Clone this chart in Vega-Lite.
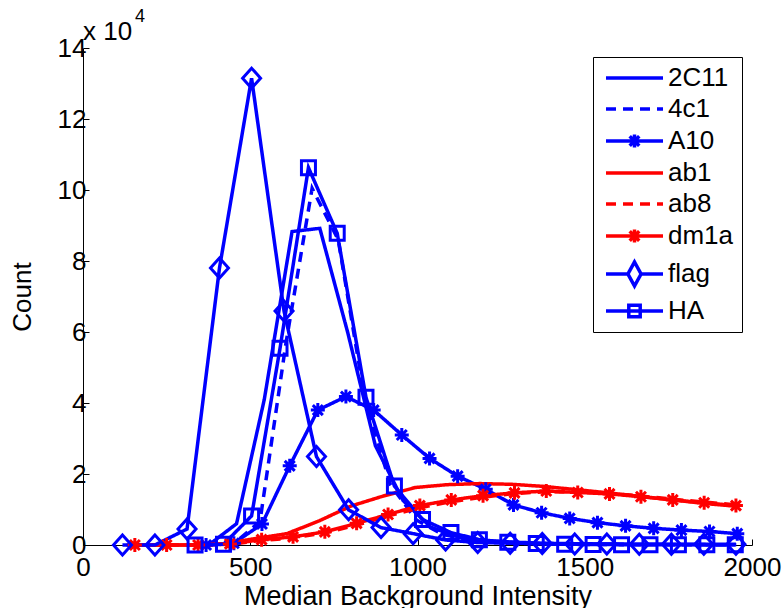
{
  "$schema": "https://vega.github.io/schema/vega-lite/v6.json",
  "width": 669,
  "height": 497,
  "autosize": {"type": "none"},
  "padding": {"left": 83, "top": 48, "right": 32, "bottom": 63},
  "background": "white",
  "config": {
    "view": {"stroke": null},
    "font": "Liberation Sans",
    "axis": {
      "domainColor": "#000000",
      "domainWidth": 1,
      "tickColor": "#000000",
      "tickSize": -6,
      "grid": false,
      "labelFont": "Liberation Sans",
      "labelFontSize": 26,
      "labelColor": "#000000",
      "titleFont": "Liberation Sans",
      "titleFontWeight": "normal",
      "titleColor": "#000000"
    }
  },
  "datasets": {
    "counts": [
      {"s": "2C11", "x": 376, "y": 0}, {"s": "2C11", "x": 459, "y": 6000}, {"s": "2C11", "x": 542, "y": 41000}, {"s": "2C11", "x": 625, "y": 88300}, {"s": "2C11", "x": 708, "y": 89200}, {"s": "2C11", "x": 791, "y": 60000}, {"s": "2C11", "x": 874, "y": 28000}, {"s": "2C11", "x": 957, "y": 12500}, {"s": "2C11", "x": 1040, "y": 5000}, {"s": "2C11", "x": 1123, "y": 2200}, {"s": "2C11", "x": 1206, "y": 1200}, {"s": "2C11", "x": 1289, "y": 800}, {"s": "2C11", "x": 1372, "y": 500}, {"s": "2C11", "x": 1455, "y": 400}, {"s": "2C11", "x": 1538, "y": 300}, {"s": "2C11", "x": 1621, "y": 200}, {"s": "2C11", "x": 1704, "y": 200}, {"s": "2C11", "x": 1787, "y": 150}, {"s": "2C11", "x": 1870, "y": 100}, {"s": "2C11", "x": 1953, "y": 100},
      {"s": "4c1", "x": 373, "y": 0}, {"s": "4c1", "x": 451, "y": 400}, {"s": "4c1", "x": 529, "y": 6600}, {"s": "4c1", "x": 607, "y": 57000}, {"s": "4c1", "x": 685, "y": 100500}, {"s": "4c1", "x": 763, "y": 86000}, {"s": "4c1", "x": 841, "y": 42000}, {"s": "4c1", "x": 919, "y": 17000}, {"s": "4c1", "x": 997, "y": 7000}, {"s": "4c1", "x": 1075, "y": 3000}, {"s": "4c1", "x": 1153, "y": 1500}, {"s": "4c1", "x": 1231, "y": 900}, {"s": "4c1", "x": 1309, "y": 500}, {"s": "4c1", "x": 1387, "y": 300}, {"s": "4c1", "x": 1465, "y": 200}, {"s": "4c1", "x": 1543, "y": 150}, {"s": "4c1", "x": 1621, "y": 100}, {"s": "4c1", "x": 1699, "y": 100}, {"s": "4c1", "x": 1777, "y": 50}, {"s": "4c1", "x": 1855, "y": 50}, {"s": "4c1", "x": 1933, "y": 50},
      {"s": "A10", "x": 368, "y": 0}, {"s": "A10", "x": 451, "y": 500}, {"s": "A10", "x": 535, "y": 5900}, {"s": "A10", "x": 618, "y": 22300}, {"s": "A10", "x": 702, "y": 38000}, {"s": "A10", "x": 786, "y": 41800}, {"s": "A10", "x": 869, "y": 38000}, {"s": "A10", "x": 953, "y": 31000}, {"s": "A10", "x": 1036, "y": 24400}, {"s": "A10", "x": 1120, "y": 19400}, {"s": "A10", "x": 1204, "y": 15700}, {"s": "A10", "x": 1287, "y": 11300}, {"s": "A10", "x": 1371, "y": 9100}, {"s": "A10", "x": 1455, "y": 7500}, {"s": "A10", "x": 1538, "y": 6300}, {"s": "A10", "x": 1622, "y": 5400}, {"s": "A10", "x": 1706, "y": 4700}, {"s": "A10", "x": 1789, "y": 4200}, {"s": "A10", "x": 1873, "y": 3800}, {"s": "A10", "x": 1956, "y": 3200},
      {"s": "ab1", "x": 130, "y": 0}, {"s": "ab1", "x": 226, "y": 0}, {"s": "ab1", "x": 322, "y": 0}, {"s": "ab1", "x": 418, "y": 300}, {"s": "ab1", "x": 514, "y": 1800}, {"s": "ab1", "x": 610, "y": 3200}, {"s": "ab1", "x": 706, "y": 6800}, {"s": "ab1", "x": 802, "y": 11000}, {"s": "ab1", "x": 898, "y": 13800}, {"s": "ab1", "x": 994, "y": 16200}, {"s": "ab1", "x": 1090, "y": 17000}, {"s": "ab1", "x": 1186, "y": 17300}, {"s": "ab1", "x": 1282, "y": 17100}, {"s": "ab1", "x": 1378, "y": 16500}, {"s": "ab1", "x": 1474, "y": 15600}, {"s": "ab1", "x": 1570, "y": 14700}, {"s": "ab1", "x": 1666, "y": 13700}, {"s": "ab1", "x": 1762, "y": 12700}, {"s": "ab1", "x": 1858, "y": 11700}, {"s": "ab1", "x": 1954, "y": 10900},
      {"s": "ab8", "x": 155, "y": 0}, {"s": "ab8", "x": 250, "y": 0}, {"s": "ab8", "x": 344, "y": 0}, {"s": "ab8", "x": 439, "y": 200}, {"s": "ab8", "x": 534, "y": 1300}, {"s": "ab8", "x": 628, "y": 2000}, {"s": "ab8", "x": 723, "y": 3400}, {"s": "ab8", "x": 818, "y": 5600}, {"s": "ab8", "x": 912, "y": 8200}, {"s": "ab8", "x": 1007, "y": 10500}, {"s": "ab8", "x": 1101, "y": 12200}, {"s": "ab8", "x": 1196, "y": 13500}, {"s": "ab8", "x": 1290, "y": 14500}, {"s": "ab8", "x": 1385, "y": 15000}, {"s": "ab8", "x": 1479, "y": 14900}, {"s": "ab8", "x": 1574, "y": 14500}, {"s": "ab8", "x": 1668, "y": 13800}, {"s": "ab8", "x": 1763, "y": 12900}, {"s": "ab8", "x": 1857, "y": 12100}, {"s": "ab8", "x": 1952, "y": 11300},
      {"s": "dm1a", "x": 155, "y": 0}, {"s": "dm1a", "x": 250, "y": 0}, {"s": "dm1a", "x": 344, "y": 0}, {"s": "dm1a", "x": 439, "y": 300}, {"s": "dm1a", "x": 534, "y": 1500}, {"s": "dm1a", "x": 628, "y": 2300}, {"s": "dm1a", "x": 723, "y": 3700}, {"s": "dm1a", "x": 818, "y": 6100}, {"s": "dm1a", "x": 912, "y": 8600}, {"s": "dm1a", "x": 1007, "y": 11100}, {"s": "dm1a", "x": 1101, "y": 12700}, {"s": "dm1a", "x": 1196, "y": 13900}, {"s": "dm1a", "x": 1290, "y": 14700}, {"s": "dm1a", "x": 1385, "y": 15200}, {"s": "dm1a", "x": 1479, "y": 14800}, {"s": "dm1a", "x": 1574, "y": 14400}, {"s": "dm1a", "x": 1668, "y": 13600}, {"s": "dm1a", "x": 1763, "y": 12700}, {"s": "dm1a", "x": 1857, "y": 11900}, {"s": "dm1a", "x": 1952, "y": 11100},
      {"s": "flag", "x": 118, "y": 0}, {"s": "flag", "x": 215, "y": 0}, {"s": "flag", "x": 311, "y": 4500}, {"s": "flag", "x": 408, "y": 78000}, {"s": "flag", "x": 504, "y": 131500}, {"s": "flag", "x": 601, "y": 65900}, {"s": "flag", "x": 698, "y": 24900}, {"s": "flag", "x": 794, "y": 9900}, {"s": "flag", "x": 891, "y": 4900}, {"s": "flag", "x": 987, "y": 3200}, {"s": "flag", "x": 1084, "y": 1400}, {"s": "flag", "x": 1180, "y": 700}, {"s": "flag", "x": 1277, "y": 500}, {"s": "flag", "x": 1373, "y": 400}, {"s": "flag", "x": 1470, "y": 300}, {"s": "flag", "x": 1566, "y": 300}, {"s": "flag", "x": 1663, "y": 200}, {"s": "flag", "x": 1759, "y": 200}, {"s": "flag", "x": 1856, "y": 200}, {"s": "flag", "x": 1952, "y": 200},
      {"s": "HA", "x": 335, "y": 0}, {"s": "HA", "x": 420, "y": 200}, {"s": "HA", "x": 504, "y": 8200}, {"s": "HA", "x": 589, "y": 55400}, {"s": "HA", "x": 674, "y": 106300}, {"s": "HA", "x": 760, "y": 87800}, {"s": "HA", "x": 846, "y": 41600}, {"s": "HA", "x": 931, "y": 16600}, {"s": "HA", "x": 1015, "y": 7200}, {"s": "HA", "x": 1100, "y": 3500}, {"s": "HA", "x": 1185, "y": 1500}, {"s": "HA", "x": 1270, "y": 800}, {"s": "HA", "x": 1355, "y": 400}, {"s": "HA", "x": 1440, "y": 200}, {"s": "HA", "x": 1525, "y": 150}, {"s": "HA", "x": 1610, "y": 100}, {"s": "HA", "x": 1695, "y": 100}, {"s": "HA", "x": 1780, "y": 50}, {"s": "HA", "x": 1865, "y": 50}, {"s": "HA", "x": 1950, "y": 50}
    ],
    "notes": [{"t": "x 10"}]
  },
  "layer": [
    {
      "data": {"name": "counts"},
      "mark": {"type": "line", "strokeWidth": 3.5, "strokeJoin": "miter", "clip": false},
      "encoding": {
        "x": {
          "field": "x", "type": "quantitative",
          "scale": {"domain": [0, 2000], "nice": false, "zero": false},
          "axis": {"values": [0, 500, 1000, 1500, 2000], "format": "d", "title": "Median Background Intensity", "titleFontSize": 27, "labelPadding": 15, "labelFlush": false, "titleY": 59, "titleBaseline": "alphabetic"}
        },
        "y": {
          "field": "y", "type": "quantitative",
          "scale": {"domain": [0, 140000], "nice": false},
          "axis": {"values": [0, 20000, 40000, 60000, 80000, 100000, 120000, 140000], "labelExpr": "datum.value / 10000", "title": "Count", "titleFontSize": 26, "labelPadding": 3, "titleX": -61, "titleY": 248.5, "titleAngle": -90, "titleAlign": "center", "titleBaseline": "middle"}
        },
        "color": {
          "field": "s", "type": "nominal",
          "scale": {"domain": ["2C11", "4c1", "A10", "ab1", "ab8", "dm1a", "flag", "HA"], "range": ["#0000ff", "#0000ff", "#0000ff", "#ff0000", "#ff0000", "#ff0000", "#0000ff", "#0000ff"]},
          "legend": {
            "title": null,
            "orient": "none",
            "legendX": 510,
            "legendY": 9,
            "columns": 1,
            "symbolType": "stroke",
            "symbolSize": 400,
            "symbolStrokeWidth": 3.5,
            "labelFont": "Liberation Sans",
            "labelFontSize": 26,
            "labelColor": "#000000",
            "labelOffset": 41,
            "labelLimit": 70,
            "rowPadding": 5,
            "padding": 8,
            "strokeColor": "#000000",
            "fillColor": "#ffffff",
            "encode": {
              "symbols": {
                "update": {
                  "shape": {"signal": "(datum.value === 'A10' || datum.value === 'dm1a') ? 'M-0.8,0H4.9M2.05,-0.65V0.65M1.57,-0.48L2.53,0.48M1.57,0.48L2.53,-0.48' : datum.value === 'flag' ? 'M-0.8,0H1.39M2.71,0H4.9M2.05,-1.2L2.71,0L2.05,1.2L1.39,0Z' : datum.value === 'HA' ? 'M-0.8,0H4.9M1.48,-0.57H2.62V0.57H1.48Z' : 'M-0.8,0H4.9'"},
                  "strokeDash": {"signal": "(datum.value === '4c1' || datum.value === 'ab8') ? [12, 8] : [1, 0]"},
                  "strokeWidth": {"value": 3.5}
                }
              }
            }
          }
        },
        "strokeDash": {
          "field": "s", "type": "nominal",
          "scale": {"domain": ["2C11", "4c1", "A10", "ab1", "ab8", "dm1a", "flag", "HA"], "range": [[1, 0], [10, 7], [1, 0], [1, 0], [10, 7], [1, 0], [1, 0], [1, 0]]},
          "legend": null
        },
        "order": {"field": "x", "type": "quantitative"}
      }
    },
    {
      "data": {"name": "counts"},
      "transform": [{"filter": {"field": "s", "oneOf": ["A10", "dm1a", "flag", "HA"]}}],
      "mark": {"type": "point", "filled": false, "strokeWidth": 3, "size": 400, "opacity": 1, "clip": false},
      "encoding": {
        "x": {"field": "x", "type": "quantitative"},
        "y": {"field": "y", "type": "quantitative"},
        "color": {"field": "s", "type": "nominal", "legend": null},
        "shape": {
          "field": "s", "type": "nominal",
          "scale": {"domain": ["A10", "dm1a", "flag", "HA"], "range": ["M-0.7,0H0.7M0,-0.7V0.7M-0.5,-0.5L0.5,0.5M-0.5,0.5L0.5,-0.5", "M-0.7,0H0.7M0,-0.7V0.7M-0.5,-0.5L0.5,0.5M-0.5,0.5L0.5,-0.5", "M0,-1L0.9,0L0,1L-0.9,0Z", "M-0.7,-0.7H0.7V0.7H-0.7Z"]},
          "legend": null
        }
      }
    },
    {
      "data": {"name": "notes"},
      "mark": {"type": "text", "align": "left", "baseline": "alphabetic", "fontSize": 26, "font": "Liberation Sans", "color": "#000000", "dy": -8},
      "encoding": {
        "text": {"field": "t"},
        "x": {"datum": 0},
        "y": {"datum": 140000}
      }
    },
    {
      "data": {"values": [{"t": "4"}]},
      "mark": {"type": "text", "align": "left", "baseline": "alphabetic", "fontSize": 18, "font": "Liberation Sans", "color": "#000000", "dx": 52, "dy": -26},
      "encoding": {
        "text": {"field": "t"},
        "x": {"datum": 0},
        "y": {"datum": 140000}
      }
    }
  ]
}
